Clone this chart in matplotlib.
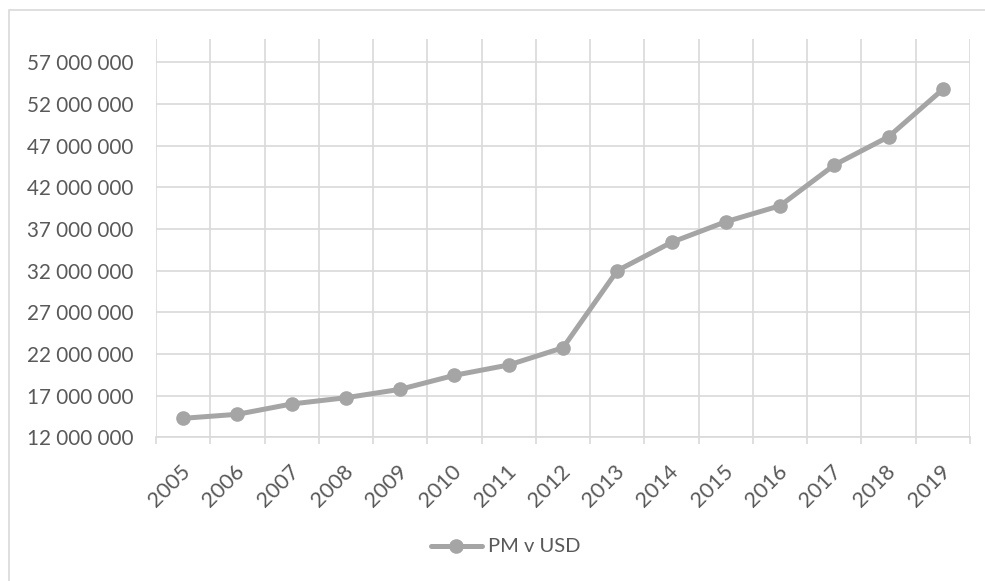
import matplotlib
matplotlib.use("Agg")
import matplotlib.pyplot as plt
from matplotlib.patches import Rectangle
import matplotlib.transforms as mtransforms
import numpy as np

years = ["2005", "2006", "2007", "2008", "2009", "2010", "2011", "2012",
         "2013", "2014", "2015", "2016", "2017", "2018", "2019"]
pm_usd = [14_280_000, 14_760_000, 16_000_000, 16_750_000, 17_760_000,
          19_440_000, 20_680_000, 22_750_000, 32_000_000, 35_400_000,
          37_870_000, 39_790_000, 44_680_000, 48_070_000, 53_760_000]
y_ticks = [12_000_000, 17_000_000, 22_000_000, 27_000_000, 32_000_000,
           37_000_000, 42_000_000, 47_000_000, 52_000_000, 57_000_000]
series_name = "PM v USD"

plt.rcParams['font.family'] = ['Lato', 'DejaVu Sans']
W, H = 985, 581
fig = plt.figure(figsize=(W / 100, H / 100), dpi=100)
fig.patch.set_facecolor("white")
# chart border (left and top visible, right/bottom run off the image)
fig.add_artist(Rectangle((8.5 / W, -5 / H), (W + 10) / W, (H - 10 + 5) / H,
                         transform=fig.transFigure, fill=False,
                         edgecolor="#D9D9D9", linewidth=1.2))

left, right, bottom, top = 156, 970, 437.3, 39
ax = fig.add_axes([left / W, (H - bottom) / H, (right - left) / W, (bottom - top) / H])

x = np.arange(len(years))
ax.plot(x, pm_usd, color="#A5A5A5", linewidth=3.6, marker="o", markersize=9.5,
        markerfacecolor="#A5A5A5", markeredgecolor="#A5A5A5", label=series_name,
        solid_capstyle="round", zorder=3)

ax.set_xlim(-0.5, len(years) - 0.5)
ax.set_ylim(12_000_000, 59_800_000)
ax.set_yticks(y_ticks)
ax.set_yticklabels([f"{v:,}".replace(",", " ") for v in y_ticks])
ax.set_xticks(x)
ax.set_xticklabels(years, rotation=45, ha="right", va="top", rotation_mode="anchor")

ax.set_xticks(np.arange(-0.5, len(years)), minor=True)
ax.grid(True, which="minor", axis="x", color="#D9D9D9", linewidth=1.2)
ax.grid(True, which="major", axis="y", color="#D9D9D9", linewidth=1.2)
ax.tick_params(axis="x", which="major", length=0, pad=17.5, labelsize=14, labelcolor="#595959")
ax.tick_params(axis="x", which="minor", length=5, width=1.2, color="#D9D9D9")
ax.tick_params(axis="y", length=0, pad=16.5, labelsize=13, labelcolor="#595959")
for s in ["top", "right", "left"]:
    ax.spines[s].set_visible(False)
ax.spines["bottom"].set_color("#D9D9D9")
ax.spines["bottom"].set_linewidth(1.2)
ax.set_axisbelow(True)

# shift x labels slightly like the reference
offset = mtransforms.ScaledTranslation(-3 / 100, 0, fig.dpi_scale_trans)
for lbl in ax.get_xticklabels():
    lbl.set_transform(lbl.get_transform() + offset)

leg = fig.legend(loc="center", bbox_to_anchor=(506 / W, 1 - 547 / H), frameon=False,
                 fontsize=14, handlelength=2.6, handletextpad=0.35, labelcolor="#595959")

# fit text sizes to the reference widths
fig.canvas.draw()
r = fig.canvas.get_renderer()
yl = ax.get_yticklabels()
wy = yl[-1].get_window_extent(r).width
ys = 13 * 106 / wy
ax.tick_params(axis="y", labelsize=ys)
xl = ax.get_xticklabels()
wx = xl[0].get_window_extent(r).width
xs = 14 * 49 / wx
ax.tick_params(axis="x", which="major", labelsize=xs)
lt = leg.get_texts()[0]
wl = lt.get_window_extent(r).width
for t in leg.get_texts():
    t.set_fontsize(14 * 93 / wl)

fig.savefig("out.png", dpi=100, facecolor="white")
